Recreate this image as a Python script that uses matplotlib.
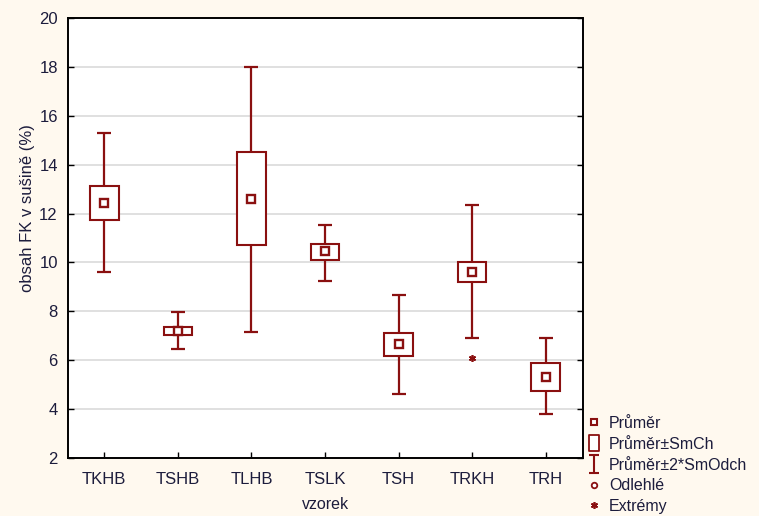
import matplotlib.pyplot as plt
from matplotlib.lines import Line2D
from matplotlib.path import Path
import numpy as np

# values
samples = ['TKHB', 'TSHB', 'TLHB', 'TSLK', 'TSH', 'TRKH', 'TRH']
means = [12.45, 7.20, 12.58, 10.46, 6.65, 9.62, 5.30]
se_low = [11.75, 7.03, 10.70, 10.11, 6.19, 9.19, 4.74]
se_high = [13.12, 7.37, 14.51, 10.77, 7.10, 10.00, 5.87]
sd2_low = [9.60, 6.45, 7.17, 9.25, 4.62, 6.92, 3.79]
sd2_high = [15.28, 7.96, 17.98, 11.55, 8.67, 12.35, 6.92]
extreme_samples = ['TRKH']
extreme_values = [6.09]

legend_labels = ['Průměr', 'Průměr±SmCh', 'Průměr±2*SmOdch', 'Odlehlé', 'Extrémy']

red = '#8A1010'
txt = '#1c1c3c'
bg = '#FFF9EF'

plt.rcParams['font.family'] = ['Liberation Sans', 'DejaVu Sans']

fig = plt.figure(figsize=(7.59, 5.16), dpi=100, facecolor=bg)
ax = fig.add_axes([67.5 / 759, 1 - 458 / 516, 515 / 759, 440 / 516])
ax.set_facecolor('white')

x = np.arange(1, len(samples) + 1)
box_w = 0.39
cap_w = 0.19

# whiskers (mean +- 2*SD)
ax.vlines(x, sd2_low, sd2_high, color=red, lw=1.6, zorder=3)
ax.hlines(sd2_low, x - cap_w / 2, x + cap_w / 2, color=red, lw=1.6, zorder=3)
ax.hlines(sd2_high, x - cap_w / 2, x + cap_w / 2, color=red, lw=1.6, zorder=3)

# boxes (mean +- SE)
heights = np.array(se_high) - np.array(se_low)
ax.bar(x, heights, bottom=se_low, width=box_w, facecolor='white',
       edgecolor=red, lw=1.5, zorder=4)

# means
ax.plot(x, means, 's', ms=5.5, mfc='white', mec=red, mew=1.7, zorder=5)

# extremes
ext_x = [samples.index(s) + 1 for s in extreme_samples]
ax.plot(ext_x, extreme_values, marker=(6, 2, 0), ls='none', ms=5, mec=red,
        mew=1.2, zorder=5)

ax.set_xlim(0.5, 7.5)
ax.set_ylim(2, 20)
ax.set_yticks(np.arange(2, 21, 2))
ax.set_xticks(x)
ax.set_xticklabels(samples)
ax.yaxis.grid(True, color='#dddddd', lw=1.3)
ax.set_axisbelow(True)

for s in ax.spines.values():
    s.set_color('black')
    s.set_linewidth(1.4)

ax.tick_params(axis='y', direction='in', length=4, width=1, right=True,
               labelsize=12, labelcolor=txt, pad=7)
ax.tick_params(axis='x', direction='in', length=4, width=1,
               labelsize=12, labelcolor=txt, pad=10)

ax.set_xlabel('vzorek', fontsize=11.5, color=txt, labelpad=7)
ax.set_ylabel('obsah FK v sušině (%)', fontsize=12, color=txt)
ax.yaxis.set_label_coords(-0.063, 0.568)

# legend handles
rect_path = Path([(-0.3, -0.5), (0.3, -0.5), (0.3, 0.5), (-0.3, 0.5), (-0.3, -0.5)],
                 [Path.MOVETO, Path.LINETO, Path.LINETO, Path.LINETO, Path.CLOSEPOLY])
ibeam_path = Path([(-0.3, 0.5), (0.3, 0.5), (0, 0.5), (0, -0.5), (-0.3, -0.5), (0.3, -0.5)],
                  [Path.MOVETO, Path.LINETO, Path.MOVETO, Path.LINETO, Path.MOVETO, Path.LINETO])
handles = [
    Line2D([], [], ls='none', marker='s', ms=5, mfc='white', mec=red, mew=1.5),
    Line2D([], [], ls='none', marker=rect_path, ms=12, mfc='white', mec=red, mew=1.3),
    Line2D([], [], ls='none', marker=ibeam_path, ms=13, mfc='none', mec=red, mew=1.5),
    Line2D([], [], ls='none', marker='o', ms=4, mfc='white', mec=red, mew=1.3),
    Line2D([], [], ls='none', marker=(6, 2, 0), ms=5, mec=red, mew=1.2),
]
leg = fig.legend(handles, legend_labels, loc='upper left',
                 bbox_to_anchor=(586.4 / 759, 1 - 416 / 516), frameon=False,
                 fontsize=11.5, handlelength=1.0, handletextpad=0.4,
                 labelspacing=0.36, borderpad=0, borderaxespad=0)
for t in leg.get_texts():
    t.set_color(txt)

fig.savefig('out.png', dpi=100, facecolor=bg)
